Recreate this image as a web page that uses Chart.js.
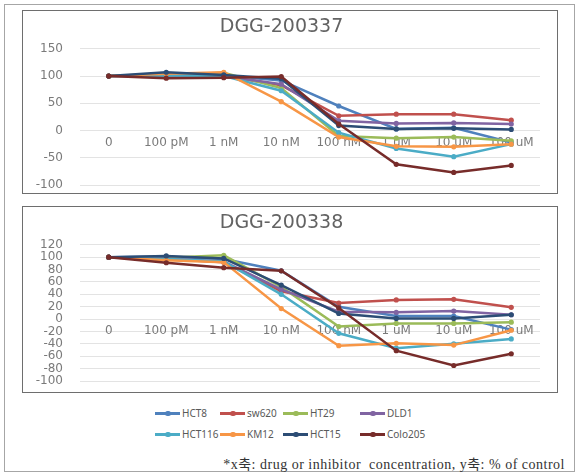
<!DOCTYPE html>
<html>
<head>
<meta charset="utf-8">
<script src="https://cdn.jsdelivr.net/npm/chart.js@4.4.1/dist/chart.umd.min.js"></script>
<style>
body{margin:0;background:#fff;}
#page{position:relative;width:583px;height:476px;overflow:hidden;}
#outer{position:absolute;left:4px;top:4px;width:571px;height:468px;border:1px solid #a6a6a6;box-sizing:border-box;}
.frame{position:absolute;left:22px;width:536px;border:1px solid #6e6e6e;box-sizing:border-box;}
.frame canvas{display:block;}
.item{position:absolute;height:12px;font-family:"Noto Sans",sans-serif;font-size:10px;color:#595959;line-height:12px;white-space:nowrap;}
.item .ln{position:absolute;left:0;top:5px;width:25px;height:2.5px;}
.item .dot{position:absolute;left:10px;top:3.5px;width:5.5px;height:5.5px;border-radius:50%;}
.item span{position:absolute;left:27px;top:0;}
#caption{position:absolute;right:18px;top:453px;font-family:"Liberation Serif","Noto Sans CJK KR",serif;font-size:14px;letter-spacing:0.5px;color:#333;white-space:nowrap;}
</style>
</head>
<body>
<div id="page">
  <div id="outer"></div>
  <div class="frame" style="top:10px;height:184px;"><canvas id="c337" width="534" height="182"></canvas></div>
  <div class="frame" style="top:206px;height:187px;"><canvas id="c338" width="534" height="185"></canvas></div>
  <div id="legend"></div>
  <div id="caption">*x축: drug or inhibitor&nbsp;&nbsp;concentration, y축: % of control</div>
</div>
<script>
const concLabels = ['0', '100 pM', '1 nM', '10 nM', '100 nM', '1 uM', '10 uM', '100 uM'];
const cellLines = ['HCT8', 'sw620', 'HT29', 'DLD1', 'HCT116', 'KM12', 'HCT15', 'Colo205'];
const lineColors = ['#4f81bd', '#c0504d', '#9bbb59', '#8064a2', '#4bacc6', '#f79646', '#2c4d75', '#772c2a'];

// DGG-200337 (% of control)
const dgg337HCT8    = [100, 103, 101, 92, 45, 3, 5, -22];
const dgg337sw620   = [100, 100, 100, 83, 27, 30, 30, 19];
const dgg337HT29    = [100, 102, 106, 78, -10, -14, -12, -19];
const dgg337DLD1    = [100, 101, 100, 85, 18, 13, 14, 12];
const dgg337HCT116  = [100, 101, 100, 73, -4, -33, -48, -25];
const dgg337KM12    = [100, 104, 107, 53, -12, -29, -30, -25];
const dgg337HCT15   = [100, 107, 102, 95, 9, 3, 4, 2];
const dgg337Colo205 = [100, 96, 97, 99, 12, -62, -77, -64];

// DGG-200338 (% of control)
const dgg338HCT8    = [100, 101, 97, 78, 20, 5, 5, -17];
const dgg338sw620   = [100, 97, 92, 45, 26, 31, 32, 19];
const dgg338HT29    = [100, 99, 103, 52, -12, -7, -7, -5];
const dgg338DLD1    = [100, 98, 93, 48, 12, 11, 13, 7];
const dgg338HCT116  = [100, 97, 93, 40, -23, -47, -40, -32];
const dgg338KM12    = [100, 95, 92, 17, -43, -39, -42, -18];
const dgg338HCT15   = [100, 102, 98, 55, 9, 1, 1, 7];
const dgg338Colo205 = [100, 91, 83, 78, 18, -51, -75, -56];

const dgg337 = [dgg337HCT8, dgg337sw620, dgg337HT29, dgg337DLD1, dgg337HCT116, dgg337KM12, dgg337HCT15, dgg337Colo205];
const dgg338 = [dgg338HCT8, dgg338sw620, dgg338HT29, dgg338DLD1, dgg338HCT116, dgg338KM12, dgg338HCT15, dgg338Colo205];

const tickFont = {family: 'DejaVu Sans', size: 12};

function makeChart(id, title, series, yMin, yMax, yStep, padBottom) {
	return new Chart(document.getElementById(id), {
		type: 'line',
		data: {
			labels: concLabels,
			datasets: series.map((vals, i) => ({
				label: cellLines[i],
				data: vals,
				borderColor: lineColors[i],
				backgroundColor: lineColors[i],
				pointBackgroundColor: lineColors[i],
				borderWidth: 2.5,
				pointRadius: 2.6,
				pointBorderWidth: 0,
				tension: 0,
				order: series.length - i
			}))
		},
		options: {
			responsive: false,
			animation: false,
			layout: {padding: {left: 0, right: 17, top: 0, bottom: padBottom}},
			plugins: {
				legend: {display: false},
				tooltip: {enabled: false},
				title: {
					display: true,
					text: title,
					color: '#636363',
					font: {family: 'DejaVu Sans', size: 19, weight: 'normal'},
					padding: {top: 5, bottom: 10}
				}
			},
			scales: {
				x: {
					position: {y: 0},
					offset: true,
					grid: {display: false, drawTicks: false},
					border: {display: false},
					ticks: {color: '#7a7a7a', font: tickFont, padding: 5, maxRotation: 0, autoSkip: false},
					afterFit: s => { s.height = 0; }
				},
				y: {
					min: yMin,
					max: yMax,
					grid: {color: '#e3e3e3', drawTicks: false},
					border: {display: false},
					ticks: {stepSize: yStep, autoSkip: false, color: '#7a7a7a', font: tickFont, padding: 17},
					afterFit: s => { s.width = 57; s.paddingTop = 0; s.paddingBottom = 0; }
				}
			}
		}
	});
}

makeChart('c337', 'DGG-200337', dgg337, -100, 150, 50, 8);
makeChart('c338', 'DGG-200338', dgg338, -100, 120, 20, 11);

// legend, two rows of four like the original
const legendCols = [155, 220, 283, 360];
const legendRows = [407, 428];
const legend = document.getElementById('legend');
cellLines.forEach((name, i) => {
	const item = document.createElement('div');
	item.className = 'item';
	item.style.left = legendCols[i % 4] + 'px';
	item.style.top = legendRows[Math.floor(i / 4)] + 'px';
	item.innerHTML = '<div class="ln" style="background:' + lineColors[i] + '"></div>' +
		'<div class="dot" style="background:' + lineColors[i] + '"></div><span>' + name + '</span>';
	legend.appendChild(item);
});
</script>
</body>
</html>
